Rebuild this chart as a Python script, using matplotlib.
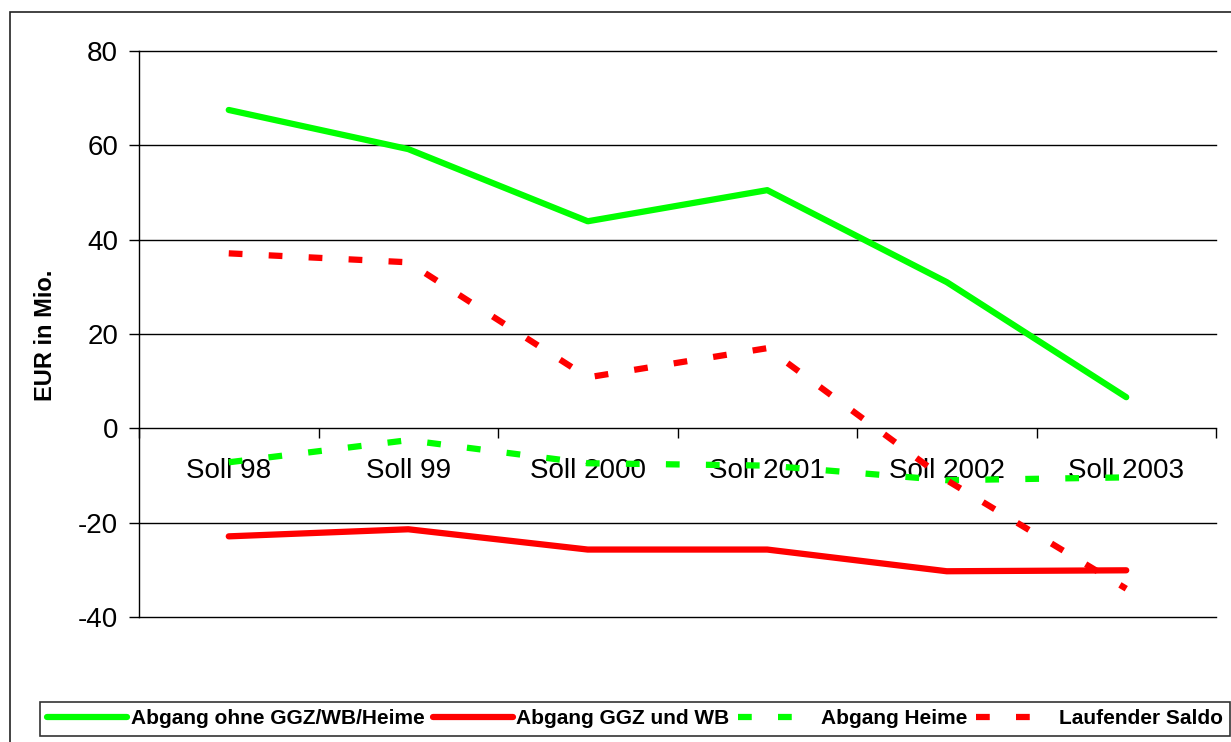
import numpy as np
import matplotlib
matplotlib.use("Agg")
import matplotlib.pyplot as plt
from matplotlib.patches import Rectangle

plt.rcParams['font.family'] = ['Liberation Sans', 'DejaVu Sans']

categories = ["Soll 98", "Soll 99", "Soll 2000", "Soll 2001", "Soll 2002", "Soll 2003"]
abgang_ohne = [67.5, 59.2, 43.9, 50.5, 31.0, 6.6]
abgang_ggz_wb = [-22.9, -21.4, -25.7, -25.7, -30.3, -30.1]
abgang_heime = [-7.2, -2.5, -7.4, -7.9, -11.0, -10.4]
laufender_saldo = [37.1, 35.2, 10.8, 17.0, -11.0, -34.0]

GREEN = "#00ff00"
RED = "#ff0000"

fig = plt.figure(figsize=(12.31, 7.42), dpi=100)
ax = fig.add_axes([139 / 1231, 1 - 617 / 742, (1216 - 139) / 1231, (617 - 51) / 742])

x = np.arange(len(categories))
dash = (0, (2.2, 4.2))
ax.plot(x, abgang_ohne, color=GREEN, lw=4.5, solid_capstyle='round', solid_joinstyle='round',
        label="Abgang ohne GGZ/WB/Heime", zorder=3)
ax.plot(x, abgang_ggz_wb, color=RED, lw=4.5, solid_capstyle='round', solid_joinstyle='round',
        label="Abgang GGZ und WB", zorder=3)
ax.plot(x, abgang_heime, color=GREEN, lw=4.5, linestyle=dash, dash_capstyle='butt',
        label="Abgang Heime", zorder=3)
ax.plot(x, laufender_saldo, color=RED, lw=4.5, linestyle=dash, dash_capstyle='butt',
        label="Laufender Saldo", zorder=3)

ax.set_xlim(-0.5, len(categories) - 0.5)
ax.set_ylim(-40, 80)
ax.set_yticks(np.arange(-40, 81, 20))
ax.set_yticklabels([str(v) for v in range(-40, 81, 20)])
ax.tick_params(axis='y', labelsize=20, length=7, width=1, direction='out', pad=8)

# horizontal gridlines (except zero which is the x axis)
for v in range(-40, 81, 20):
    if v != 0:
        ax.axhline(v, color='black', lw=1, zorder=1, clip_on=False)

for s in ['top', 'right']:
    ax.spines[s].set_visible(False)
ax.spines['bottom'].set_position(('data', 0))
ax.spines['left'].set_linewidth(1)
ax.spines['bottom'].set_linewidth(1)

ax.set_xticks(x)
ax.set_xticklabels(categories)
ax.set_xticks(np.arange(-0.5, len(categories), 1), minor=True)
ax.tick_params(axis='x', which='major', length=0, labelsize=20, pad=21)
ax.tick_params(axis='x', which='minor', length=7, width=1, direction='out')
for lbl in ax.get_xticklabels():
    lbl.set_zorder(2)

fig.text(45 / 1231, 1 - 335 / 742, "EUR in Mio.", rotation=90, fontsize=17,
         fontweight='bold', ha='center', va='center')

# outer frame
fig.patches.append(Rectangle((10 / 1231, -0.1), 1.2, 1 - 12 / 742 + 0.1,
                             transform=fig.transFigure, fill=False,
                             edgecolor='#222222', lw=1.2))

leg = fig.legend(loc='upper left', bbox_to_anchor=(40 / 1231, 1 - 702 / 742),
                 ncol=4, frameon=True, fancybox=False, edgecolor='black',
                 prop={'size': 15, 'weight': 'bold'}, handlelength=3.85,
                 handletextpad=0.15, columnspacing=0.4, borderpad=0.35,
                 borderaxespad=0)
leg.get_frame().set_linewidth(1.2)

fig.savefig("out.png", dpi=100)
